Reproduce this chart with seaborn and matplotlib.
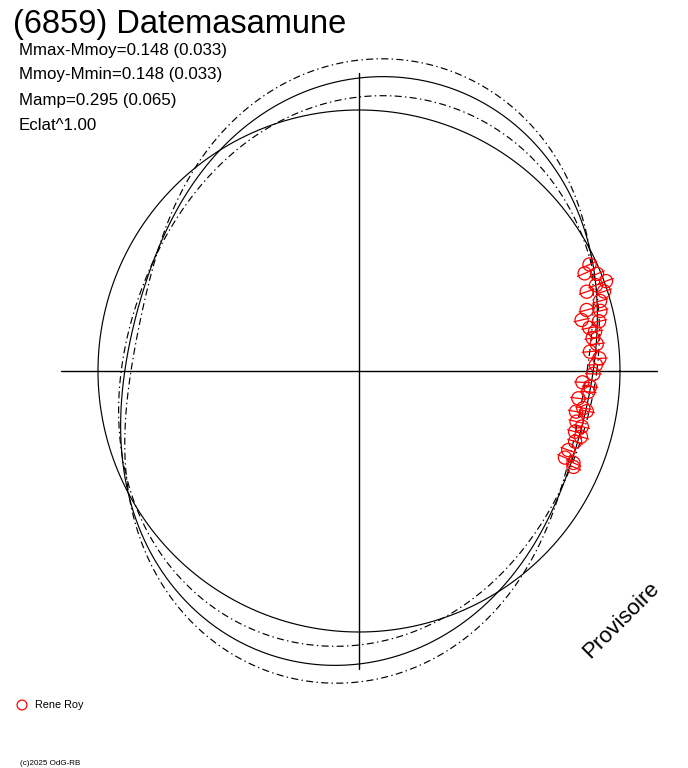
import numpy as np
import matplotlib
matplotlib.use("Agg")
import matplotlib.pyplot as plt
import seaborn as sns

obs_angle = [24.8, 23.4, 22.2, 20.0, 19.9, 19.2, 18.0, 16.2, 15.0, 14.0, 12.9, 11.7,
             10.6, 9.5, 8.0, 6.5, 4.8, 3.0, 1.5, -0.7, -2.9, -3.9, -5.2, -7.1,
             -9.4, -10.6, -10.0, -13.1, -14.0, -15.7, -16.5, -18.1, -20.7, -22.8, -23.2, -24.1]
obs_flux = [0.973, 0.942, 0.985, 1.007, 0.966, 0.924, 0.987, 0.962, 0.903, 0.953, 0.875, 0.939,
            0.898, 0.917, 0.904, 0.917, 0.888, 0.922, 0.908, 0.898, 0.857, 0.887, 0.882, 0.847,
            0.871, 0.846, 0.886, 0.856, 0.880, 0.860, 0.887, 0.871, 0.857, 0.856, 0.894, 0.900]
obs_err = [0.030, 0.030, 0.030, 0.030, 0.030, 0.030, 0.030, 0.030, 0.030, 0.030, 0.030, 0.030,
           0.030, 0.030, 0.030, 0.030, 0.030, 0.030, 0.030, 0.030, 0.030, 0.030, 0.030, 0.030,
           0.030, 0.030, 0.030, 0.030, 0.030, 0.030, 0.030, 0.030, 0.030, 0.030, 0.030, 0.030]

# fitted curves (2nd harmonic): minimum level, rise to maximum, angle of minimum
fit_names = ["fit", "fit + sigma", "fit - sigma"]
fit_base = [0.88, 0.86, 0.89]
fit_rise = [0.26, 0.345, 0.181]
fit_angle0 = [-15.0, -11.5, -20.0]
fit_dashed = [False, True, True]

ref_radius = 1.0      # reference circle (mean flux)
axis_half = 1.14      # half length of the cross

title = "(6859) Datemasamune"
stats_lines = ["Mmax-Mmoy=0.148 (0.033)", "Mmoy-Mmin=0.148 (0.033)",
               "Mamp=0.295 (0.065)", "Eclat^1.00"]
observer = "Rene Roy"

sns.set_style("white")
plt.rcParams['font.family'] = ['Liberation Sans', 'DejaVu Sans']
plt.rcParams['text.color'] = 'black'

W, H = 688, 768
px = 261.0  # pixels per flux unit
cx, cy = 359, 371
fig = plt.figure(figsize=(W / 100, H / 100), dpi=100)
ax = fig.add_axes([0, 0, 1, 1])
ax.set_xlim(-cx / px, (W - cx) / px)
ax.set_ylim(-(H - cy) / px, cy / px)
ax.axis("off")

theta = np.radians(np.arange(0, 360.5, 0.5))

# cross
sns.lineplot(x=[-axis_half, axis_half], y=[0, 0], sort=False, estimator=None,
             color="black", lw=1, ax=ax)
sns.lineplot(x=[0, 0], y=[-axis_half, axis_half], sort=False, estimator=None,
             color="black", lw=1, ax=ax)

# reference circle
sns.lineplot(x=ref_radius * np.cos(theta), y=ref_radius * np.sin(theta),
             sort=False, estimator=None, color="black", lw=0.85, ax=ax)

# fit curves
for name, base, rise, a0, dashed in zip(fit_names, fit_base, fit_rise, fit_angle0, fit_dashed):
    r = base + rise * (1 - np.cos(2 * (theta - np.radians(a0)))) / 2
    line = sns.lineplot(x=r * np.cos(theta), y=r * np.sin(theta), sort=False,
                        estimator=None, color="black", lw=0.85, ax=ax).lines[-1]
    if dashed:
        line.set_dashes((6, 2.8, 1.2, 2.8))

# observations with radial error bars
a = np.radians(obs_angle)
f = np.array(obs_flux)
e = np.array(obs_err)
ex, ey = [], []
for ai, fi, ei in zip(a, f, e):
    ex += [(fi - ei) * np.cos(ai), (fi + ei) * np.cos(ai), np.nan]
    ey += [(fi - ei) * np.sin(ai), (fi + ei) * np.sin(ai), np.nan]
ax.plot(ex, ey, color="red", lw=0.9)
sns.scatterplot(x=f * np.cos(a), y=f * np.sin(a), marker="o", s=90,
                facecolor="none", edgecolor="red", linewidth=0.9, ax=ax, zorder=3)

# texts
def fxy(x, y):
    return x / W, 1 - y / H

fig.text(*fxy(13, 33), title, fontsize=23.5, va="baseline", ha="left")
for i, s in enumerate(stats_lines):
    fig.text(*fxy(19, 54.5 + 25 * i), s, fontsize=12.2, va="baseline", ha="left")

fig.text(*fxy(590, 659), "Provisoire", fontsize=16, rotation=45,
         rotation_mode="anchor", va="baseline", ha="left")

# legend
ax.scatter([(22 - cx) / px], [-(705 - cy) / px], s=50, facecolor="none",
           edgecolor="red", linewidth=0.9)
fig.text(*fxy(35, 708), observer, fontsize=7.8, va="baseline", ha="left")
fig.text(*fxy(20, 765), "(c)2025 OdG-RB", fontsize=5.8, va="baseline", ha="left")

fig.savefig("out.png", dpi=100)
